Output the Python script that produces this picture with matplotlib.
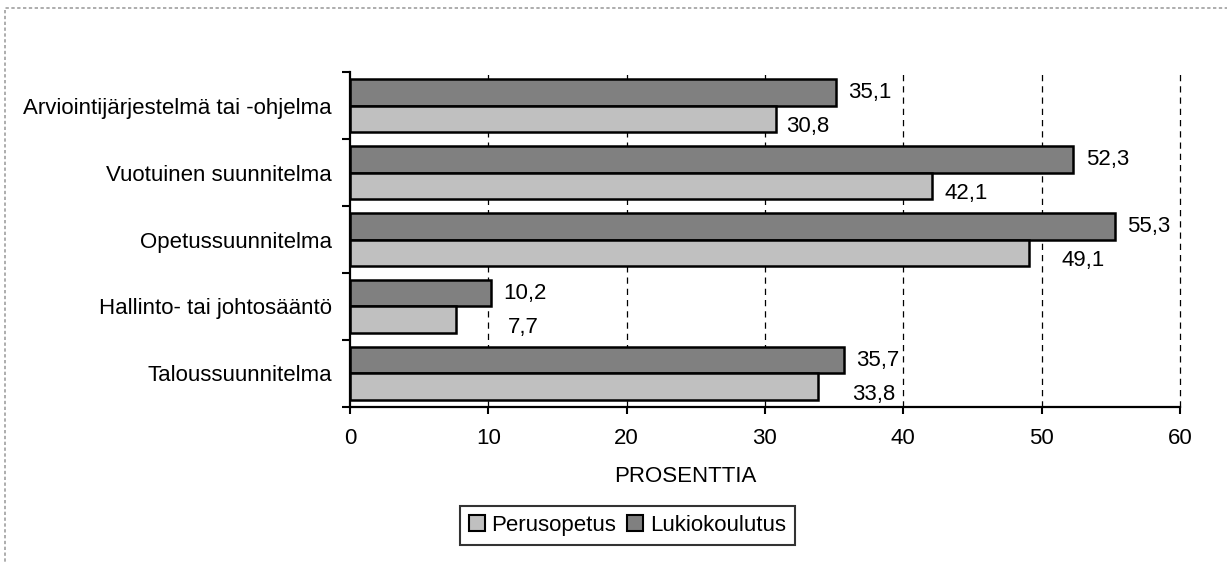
import numpy as np
import matplotlib
matplotlib.use("Agg")
import matplotlib.pyplot as plt
from matplotlib.patches import Rectangle, Patch

plt.rcParams['font.family'] = ['Liberation Sans', 'DejaVu Sans']
plt.rcParams['font.size'] = 16

# Categories listed top to bottom
categories = [
    "Arviointijärjestelmä tai -ohjelma",
    "Vuotuinen suunnitelma",
    "Opetussuunnitelma",
    "Hallinto- tai johtosääntö",
    "Taloussuunnitelma",
]
lukio = [35.1, 52.3, 55.3, 10.2, 35.7]
perus = [30.8, 42.1, 49.1, 7.7, 33.8]

# label nudges (points) for the lighter series, to keep text clear of the grid
perus_label_dx = [7, 9, 23, 37, 25]

fig = plt.figure(figsize=(12.27, 5.63), dpi=100)
ax = fig.add_axes([0.2852, 0.2771, 0.9617 - 0.2852, 0.8721 - 0.2771])

y = np.arange(len(categories))
h = 0.39

ax.barh(y - h / 2, lukio, height=h, color='#808080', edgecolor='black',
        linewidth=1.8, zorder=3, label='Lukiokoulutus')
ax.barh(y + h / 2, perus, height=h, color='#c0c0c0', edgecolor='black',
        linewidth=1.8, zorder=3, label='Perusopetus')

for yi, v in zip(y, lukio):
    ax.annotate(f"{v:.1f}".replace('.', ','), (v, yi - h / 2),
                xytext=(9, 0), textcoords='offset points',
                ha='left', va='center', fontsize=16, zorder=4)
for yi, v, dx in zip(y, perus, perus_label_dx):
    ax.annotate(f"{v:.1f}".replace('.', ','), (v, yi + h / 2),
                xytext=(dx, -6), textcoords='offset points',
                ha='left', va='center', fontsize=16, zorder=4)

ax.set_xlim(0, 60)
ax.set_ylim(len(categories) - 0.5, -0.5)
ax.set_xticks(np.arange(0, 61, 10))
ax.set_yticks(y)
ax.set_yticklabels(categories)
ax.set_yticks(np.arange(-0.5, len(categories), 1), minor=True)

ax.tick_params(axis='y', which='major', length=0, pad=13, labelsize=16)
ax.tick_params(axis='y', which='minor', length=6, width=1.5, direction='out')
ax.tick_params(axis='x', which='major', length=5, width=1.5, direction='out',
               pad=10, labelsize=16)

for gx in range(10, 61, 10):
    ax.axvline(gx, color='black', linestyle=(0, (5, 4)), linewidth=0.9,
               zorder=1, clip_on=False)

for s in ['top', 'right']:
    ax.spines[s].set_visible(False)
for s in ['left', 'bottom']:
    ax.spines[s].set_linewidth(1.6)
    ax.spines[s].set_zorder(5)

fig.text(685 / 1227, 1 - 476 / 563, 'PROSENTTIA', fontsize=16,
         ha='center', va='center')

handles = [Patch(facecolor='#c0c0c0', edgecolor='black', linewidth=1.5),
           Patch(facecolor='#808080', edgecolor='black', linewidth=1.5)]
leg = fig.legend(handles, ['Perusopetus', 'Lukiokoulutus'], ncol=2,
                 loc='center', bbox_to_anchor=(0.5114, 0.0666),
                 fancybox=False, shadow=False, frameon=True,
                 handlelength=0.7, handleheight=0.7, handletextpad=0.3,
                 columnspacing=0.5, borderpad=0.4, fontsize=16)
leg.get_frame().set_edgecolor('black')
leg.get_frame().set_linewidth(1.5)

# dashed outer frame of the chart area
fig.patches.append(Rectangle((5 / 1227, -0.1), 1.2, 1 - 8 / 563 + 0.1,
                             transform=fig.transFigure, fill=False,
                             edgecolor='#a0a0a0', linewidth=1.2,
                             linestyle=(0, (2, 1.5))))

fig.savefig('out.png', dpi=100)
